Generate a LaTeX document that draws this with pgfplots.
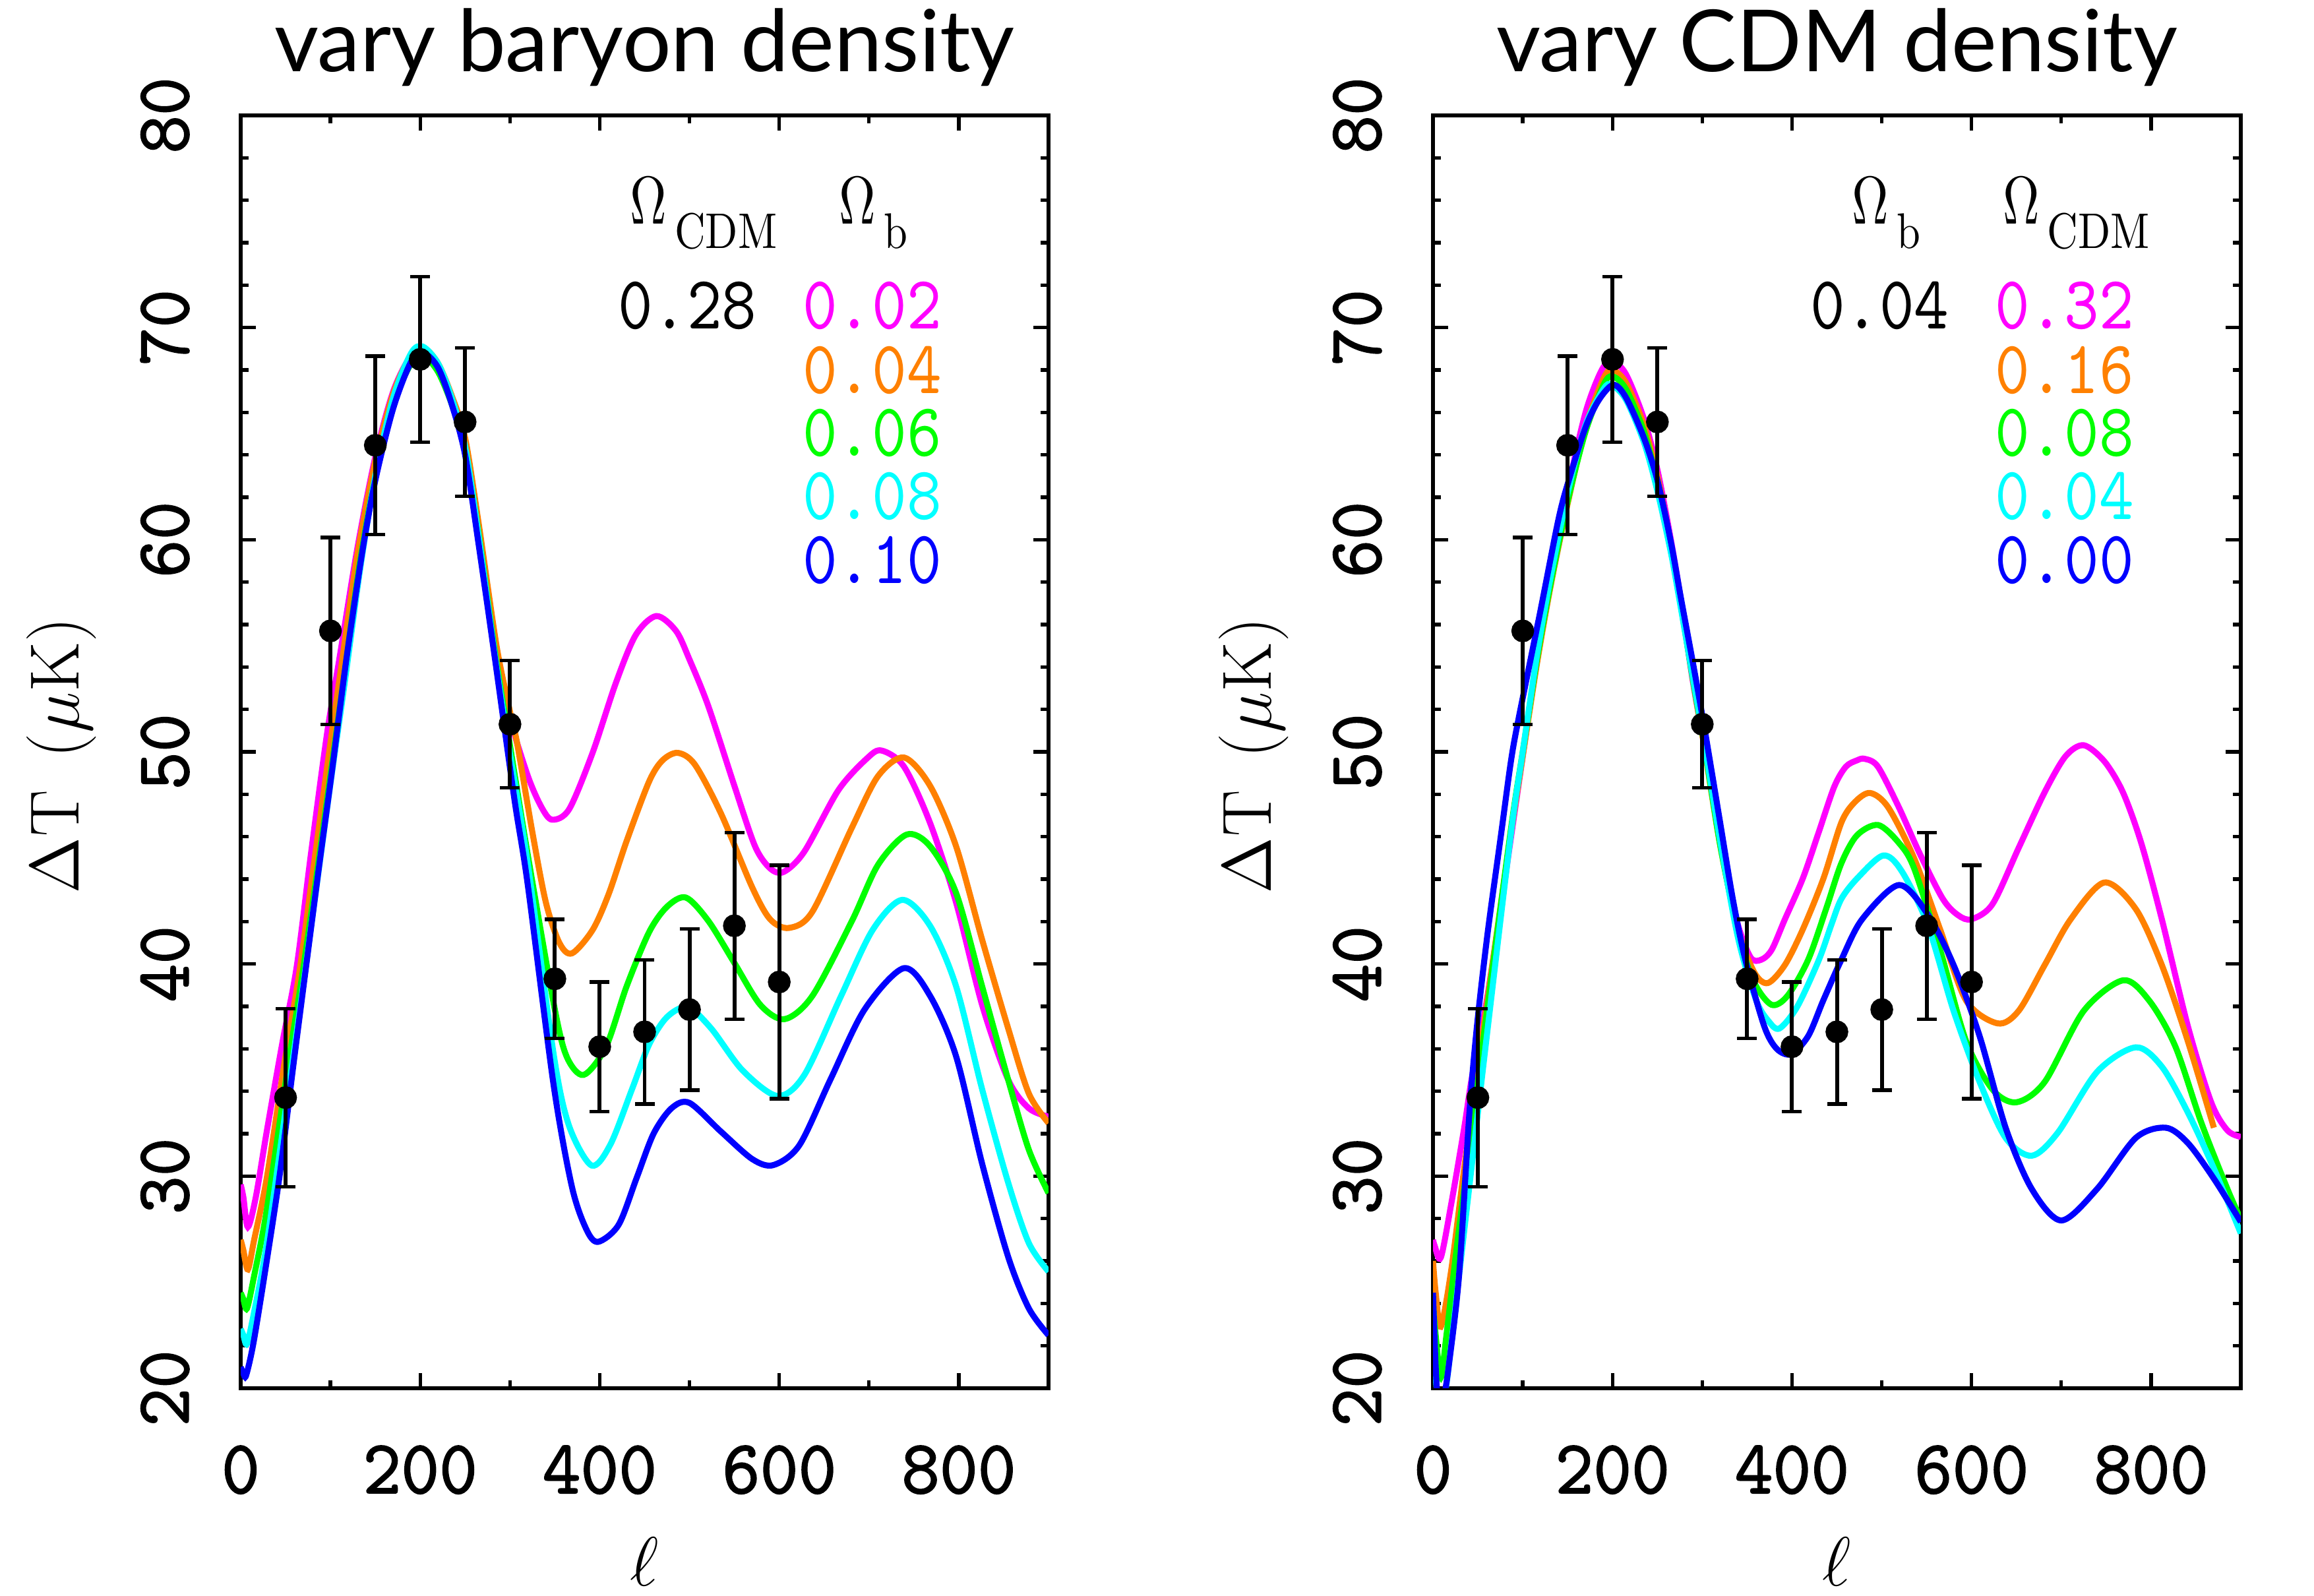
\RequirePackage{fix-cm}
\documentclass[border=0pt]{standalone}
\usepackage{fontspec}
\usepackage{graphicx}
\usepackage{pgfplots}
\pgfplotsset{compat=1.18}
\newfontfamily\titlefont{Lato}
\newfontfamily\tickfont[FakeBold=1.5,FakeStretch=0.95]{lmmono10-regular.otf}
\newfontfamily\annfont[FakeStretch=0.875]{lmmono10-regular.otf}
\newfontfamily\omfont{latinmodern-math.otf}
\newcommand{\Om}[1]{{\fontsize{14.6}{16}\omfont\scalebox{0.75}[1]{Ω}}\hspace{0.06cm}\raisebox{-5.4pt}{\fontsize{10.8}{12}\selectfont\scalebox{0.85}[1]{#1}}}
\definecolor{cmag}{rgb}{1,0,1}
\definecolor{corg}{rgb}{1,0.5,0}
\definecolor{cgrn}{rgb}{0,1,0}
\definecolor{ccyn}{rgb}{0,1,1}
\definecolor{cblu}{rgb}{0,0,1}
\tikzset{
  ann/.style={inner sep=0pt, font=\fontsize{16.3}{18}\annfont},
  omg/.style={inner sep=0pt, anchor=base west},
}
\pgfplotsset{
  myaxis/.style={
    scale only axis, width=6.125cm, height=9.65cm,
    xmin=0, xmax=900, ymin=20, ymax=80,
    xtick={0,200,400,600,800}, minor x tick num=1,
    ytick={20,30,40,50,60,70,80}, minor y tick num=4,
    tick align=inside, tick pos=both,
    major tick length=0.115cm, minor tick length=0.06cm,
    every tick/.style={black, line width=0.75pt},
    axis line style={line width=0.85pt},
    /pgf/number format/assume math mode=true,
    tick label style={font=\fontsize{16.5}{18}\tickfont},
    xticklabel style={anchor=north, inner sep=0pt, outer sep=0pt, yshift=-0.435cm},
    yticklabel style={rotate=90, anchor=south, inner sep=0pt, outer sep=0.39cm},
    every axis title/.style={at={(0.5,1.0342)}, anchor=base, inner sep=0pt, font=\fontsize{18.5}{20}\titlefont},
    label style={font=\fontsize{15}{17}\selectfont},
    ylabel={$\Delta$T\, ($\mu$K)},
    ylabel style={at={(axis description cs:-0.222,0.497)}, anchor=center},
    xlabel={$\ell$},
    xlabel style={at={(axis description cs:0.5,-0.136)}, anchor=center, inner sep=0pt},
    every axis plot/.append style={line width=1.3pt},
  },
  cmbdata/.style={only marks, mark=*, black, mark size=1.8pt,
    error bars/.cd, y dir=both, y explicit,
    error bar style={line width=0.85pt, black},
    error mark=-,
    error mark options={rotate=90, black, mark size=0.075cm, line width=0.75pt}},
}
\pgfplotstableread{
x y e
50 33.7 4.2
100 55.7 4.4
150 64.45 4.2
200 68.5 3.9
250 65.55 3.5
300 51.3 3.0
350 39.3 2.8
400 36.1 3.05
450 36.8 3.4
500 37.85 3.8
550 41.8 4.4
600 39.15 5.5
}\cmbtable
\begin{document}
\begin{tikzpicture}
\path[use as bounding box] (0,0) rectangle (17.545,12.1);
% ---------------- left panel ----------------
\begin{axis}[myaxis, at={(1.825cm,1.575cm)}, anchor=south west,
  title={vary baryon density}]
\addplot[cmag, smooth] coordinates {(0,29.6)(3,29.0)(8,27.6)(17,29.05)(29,32.1)(46.5,36.3)(62.5,39.9)(78,45.1)(96,50.8)(110,54.4)(130,59.6)(150,63.9)(170,67.0)(190,68.7)(205,69.0)(220,68.2)(235,66.6)(250,64.5)(265,60.5)(283,54.6)(299,51.7)(320,48.85)(335,47.4)(347,46.8)(366,47.3)(392,49.95)(418,53.25)(440,55.5)(463,56.4)(485,55.7)(500,54.35)(521,52.15)(550,48.4)(573,45.55)(590,44.5)(605,44.34)(628,45.3)(666,48.2)(698,49.7)(714,50.06)(739,49.3)(768,46.65)(797,42.9)(826,38.07)(855,34.55)(878,33.2)(900,32.8)};
\addplot[corg, smooth] coordinates {(0,27.0)(3,26.5)(8,25.6)(15,27.0)(29,29.9)(49,35.4)(65,39.5)(80,44.2)(97,49.5)(112,54.0)(130,59.3)(150,63.7)(170,66.9)(190,68.7)(205,69.0)(220,68.3)(235,66.8)(250,64.8)(265,60.8)(285,55.0)(300,51.9)(308,50.4)(325,46.2)(340,42.9)(355,41.0)(369,40.5)(392,41.6)(410,43.3)(430,45.8)(455,48.6)(470,49.6)(487,49.95)(506,49.4)(535,47.1)(570,43.6)(590,42.1)(611,41.7)(637,42.47)(681,46.43)(710,48.85)(739,49.73)(768,48.4)(797,45.55)(826,41.15)(855,36.97)(878,33.9)(900,32.5)};
\addplot[cgrn, smooth] coordinates {(0,24.5)(3,24.2)(7,23.76)(15,25.3)(29,28.4)(52,35.0)(68,39.3)(84,44.0)(100,48.9)(115,53.5)(132,58.7)(150,63.0)(170,66.4)(190,68.3)(205,68.6)(220,67.9)(235,66.4)(250,64.3)(265,60.3)(284,54.5)(300,50.3)(320,45.1)(349,38.07)(363,35.65)(382,34.77)(407,36.1)(430,38.95)(455,41.5)(475,42.7)(496,43.13)(521,42.03)(550,40.05)(579,38.07)(606,37.4)(637,38.5)(681,42.03)(710,44.67)(742,46.1)(768,45.55)(797,43.35)(826,38.95)(855,34.55)(878,31.25)(900,29.2)};
\addplot[ccyn, smooth] coordinates {(0,22.8)(3,22.5)(7,22.1)(15,23.6)(29,26.8)(52,33.7)(68,38.5)(84,43.5)(100,48.5)(116,53.3)(133,58.6)(150,63.0)(170,66.7)(190,68.8)(203,69.1)(220,68.3)(235,66.7)(250,64.4)(265,60.2)(284,54.3)(300,49.9)(320,44.67)(349,35.65)(366,32.35)(391,30.5)(412,31.5)(436,34.1)(455,36.2)(475,37.5)(498,37.96)(524,36.97)(559,34.99)(598,33.78)(628,34.77)(669,38.5)(704,41.6)(737,43.02)(768,41.8)(797,38.95)(826,34.1)(855,29.7)(878,26.85)(900,25.5)};
\addplot[cblu, smooth] coordinates {(0,21.0)(3,20.7)(6,20.6)(14.5,22.2)(29,26.0)(43.6,30.1)(58,35.0)(72.6,39.8)(87,44.5)(101.7,49.1)(117.7,54.35)(135,59.3)(150,62.8)(170,66.2)(190,68.4)(204,68.8)(220,68.1)(235,66.4)(250,64.0)(265,59.8)(283.4,54.35)(305,47.75)(319.6,43.8)(348.6,34.3)(369,29.5)(385,27.5)(398,26.9)(421,27.7)(441,29.9)(460,32.0)(480,33.2)(500,33.45)(535,32.1)(570,30.8)(593.5,30.52)(622.5,31.46)(657,34.55)(695,37.85)(738.7,39.8)(768,38.5)(797,35.65)(826,30.59)(855,26.2)(878,23.77)(900,22.5)};
\addplot[cmbdata] table[x=x, y=y, y error=e] {\cmbtable};
\node[omg] at (axis cs:433,74.9) {\Om{CDM}};
\node[omg] at (axis cs:666,74.9) {\Om{b}};
\node[ann, anchor=base east] at (axis cs:576,69.93) {0.28};
\node[ann, anchor=base west, text=cmag] at (axis cs:625,69.93) {0.02};
\node[ann, anchor=base west, text=corg] at (axis cs:625,66.91) {0.04};
\node[ann, anchor=base west, text=cgrn] at (axis cs:625,63.93) {0.06};
\node[ann, anchor=base west, text=ccyn] at (axis cs:625,60.95) {0.08};
\node[ann, anchor=base west, text=cblu] at (axis cs:625,57.93) {0.10};
\end{axis}
% ---------------- right panel ----------------
\begin{axis}[myaxis, at={(10.865cm,1.575cm)}, anchor=south west,
  title={vary CDM density}]
\addplot[cmag, smooth] coordinates {(0,27.0)(2,26.7)(8.7,26.16)(20.3,28.68)(34.8,32.28)(43.5,34.68)(58,37.8)(72,41.6)(87,46.0)(100,49.8)(116,54.5)(131,58.0)(150,62.3)(170,66.0)(188,68.0)(200,68.4)(215,67.8)(235,65.7)(250,63.3)(265,60.0)(276,57.2)(290,53.2)(307.7,49.07)(325,44.75)(339.6,41.87)(354,40.3)(365.7,40.2)(377.4,40.67)(392,42.1)(412,44.03)(429.6,46.19)(447,48.35)(460,49.3)(472.5,49.6)(481,49.67)(495.7,49.3)(519,47.39)(542,45.23)(568,43.07)(585,42.3)(600,42.11)(623.5,42.83)(652.5,45.47)(681.5,48.1)(704.7,49.79)(725,50.31)(748,49.55)(768.6,48.1)(789,45.71)(812,42.11)(841,37.07)(867,33.48)(885,32.16)(900,31.85)};
\addplot[corg, smooth] coordinates {(0,26.0)(3,24.5)(8.7,22.9)(20.3,25.56)(34.8,30.36)(58,37.5)(87,46.2)(100,49.8)(116,54.2)(131,57.8)(149,61.5)(170,65.3)(190,67.6)(200,68.0)(215,67.4)(235,65.4)(250,63.0)(265,59.8)(276,57.2)(290,53.3)(302,50.3)(320,45.6)(340,41.6)(358,39.6)(373,39.1)(392,39.95)(412,41.63)(435,44.03)(455,46.67)(470,47.63)(487,48.06)(507,47.39)(536,44.99)(565,41.63)(594,38.27)(629,37.2)(652.5,37.79)(681.5,39.95)(710.5,42.11)(748,43.84)(783,42.59)(812,39.95)(841,36.36)(870,32.28)};
\addplot[cgrn, smooth] coordinates {(0,24.0)(3,22.5)(8.7,20.5)(15,22.5)(29,27.5)(58,37.07)(87,46.4)(100,50.0)(116,54.4)(130,57.7)(150,61.8)(170,65.1)(190,67.3)(200,67.7)(215,67.1)(235,65.1)(250,62.7)(265,59.6)(275,57.2)(290,53.3)(302,50.4)(320,45.6)(340,41.5)(357,39.2)(377,38.08)(395,38.5)(418,40.2)(438,42.6)(455,44.75)(472.5,46.07)(496,46.55)(519,45.71)(536,44.51)(565,40.67)(594,36.36)(623.5,34.08)(650,33.48)(681.5,34.44)(725,37.79)(769,39.23)(798,38.27)(827,36.12)(856,32.52)(885,29.4)(900,27.96)};
\addplot[ccyn, smooth] coordinates {(0,22.5)(3,20.5)(7,19.2)(14.5,20.05)(29,25.3)(58,35.9)(87,46.2)(100,50.0)(116,54.6)(130,58.0)(150,62.2)(170,65.4)(190,67.1)(199,67.3)(215,66.6)(235,64.6)(250,62.3)(265,59.4)(274,57.3)(290,53.4)(302,50.5)(320,45.8)(340,41.2)(360,38.3)(374,37.3)(386,36.96)(406,38.0)(430,40.2)(444,41.87)(455,43.07)(472.5,44.03)(501.5,45.11)(522,44.39)(551,41.87)(580,37.79)(609,34.44)(638,31.8)(667,30.96)(696,32.04)(740,34.92)(783,36.07)(812,35.16)(841,33.0)(870,30.36)(900,27.3)};
\addplot[cblu, smooth] coordinates {(0,24.5)(3,21.0)(7,18.5)(12,19.5)(17.4,21.0)(29,25.3)(40.6,33.0)(49.3,37.2)(61,41.5)(75.5,46.0)(87,49.6)(96,51.7)(119,56.5)(140,61.0)(152,62.9)(170,65.3)(185,66.6)(201,67.3)(215,66.7)(235,64.8)(250,62.8)(265,59.9)(276,57.3)(290,54.1)(302,51.23)(319,46.9)(334,43.07)(348,40.2)(369,37.07)(383,36.0)(399,35.75)(418,36.6)(435,38.3)(455,40.2)(478,42.1)(519,43.72)(551,42.35)(580,39.95)(609,36.6)(638,32.28)(667,29.4)(700,27.91)(740,29.4)(783,31.8)(816.5,32.28)(841,31.56)(870,29.88)(900,27.84)};
\addplot[cmbdata] table[x=x, y=y, y error=e] {\cmbtable};
\node[omg] at (axis cs:466,74.9) {\Om{b}};
\node[omg] at (axis cs:634,74.9) {\Om{CDM}};
\node[ann, anchor=base east] at (axis cs:576,69.93) {0.04};
\node[ann, anchor=base west, text=cmag] at (axis cs:625,69.93) {0.32};
\node[ann, anchor=base west, text=corg] at (axis cs:625,66.91) {0.16};
\node[ann, anchor=base west, text=cgrn] at (axis cs:625,63.93) {0.08};
\node[ann, anchor=base west, text=ccyn] at (axis cs:625,60.95) {0.04};
\node[ann, anchor=base west, text=cblu] at (axis cs:625,57.93) {0.00};
\end{axis}
\end{tikzpicture}
\end{document}
